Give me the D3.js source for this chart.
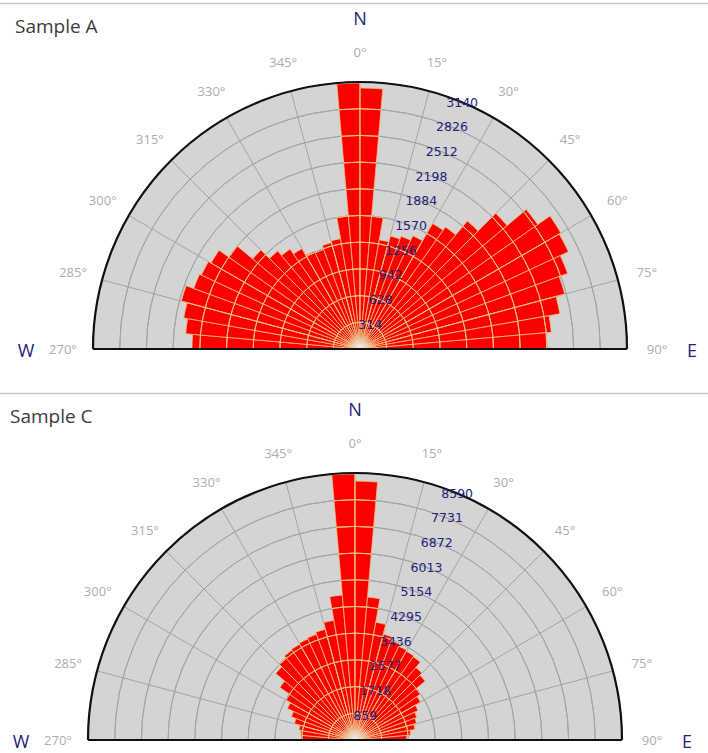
<!DOCTYPE html>
<html>
<head>
<meta charset="utf-8">
<script src="https://cdn.jsdelivr.net/npm/d3@7"></script>
<style>
  body { margin: 0; background: #ffffff; }
  svg { display: block; }
</style>
</head>
<body>
<svg id="chart" width="708" height="753"></svg>
<script>
// Direction bins (start of each 5° sector), running from west through north to east
const binStarts = [270, 275, 280, 285, 290, 295, 300, 305, 310, 315, 320, 325, 330, 335, 340, 345, 350, 355,
                   0, 5, 10, 15, 20, 25, 30, 35, 40, 45, 50, 55, 60, 65, 70, 75, 80, 85];

// Counts per sector
const sampleAValues = [1976, 2058, 2105, 2176, 2082, 2058, 2023, 1882, 1647, 1505, 1435, 1364, 1270, 1247, 1294, 1317, 1576, 3128,
                       3070, 1565, 1305, 1376, 1411, 1470, 1705, 1752, 1964, 2258, 2552, 2728, 2705, 2599, 2493, 2387, 2258, 2199];
const sampleCValues = [1700, 1760, 1830, 2020, 2180, 2400, 2560, 2950, 3330, 3460, 3530, 3560, 3590, 3620, 3690, 3910, 4680, 8560,
                       8330, 4615, 3846, 3525, 3400, 3330, 3300, 3270, 3045, 2950, 2560, 2435, 2240, 2115, 2050, 1955, 1795, 1667];

// Ring labels
const sampleATicks = [314, 628, 942, 1256, 1570, 1884, 2198, 2512, 2826, 3140];
const sampleCTicks = [859, 1718, 2577, 3436, 4295, 5154, 6013, 6872, 7731, 8590];

// Compass labels around the half circle
const degreeTicks = [270, 285, 300, 315, 330, 345, 0, 15, 30, 45, 60, 75, 90];

const binWidth = 5;
const outerRadius = 267;

const panels = [
  { title: "Sample A", values: sampleAValues, ticks: sampleATicks, cx: 360, cy: 349, top: 3, titleX: 15 },
  { title: "Sample C", values: sampleCValues, ticks: sampleCTicks, cx: 355, cy: 740, top: 393, titleX: 10 }
];

const svg = d3.select("#chart");
const rad = d => ((d >= 180 ? d - 360 : d) * Math.PI) / 180;

const BAR_FILL = "#ff0000";
const BAR_LINE = "#efc07e";
const GRID = "#a4a4a4";
const NAVY = "#23237a";

// soft light spot where the sector edges meet at the centre
const defs = svg.append("defs");
const glow = defs.append("radialGradient")
  .attr("id", "hub-glow")
  .attr("gradientUnits", "userSpaceOnUse")
  .attr("cx", 0).attr("cy", 0).attr("r", 16);
glow.append("stop").attr("offset", "0%").attr("stop-color", "#f4f4f4").attr("stop-opacity", 0.95);
glow.append("stop").attr("offset", "55%").attr("stop-color", "#e6e0dc").attr("stop-opacity", 0.45);
glow.append("stop").attr("offset", "100%").attr("stop-color", "#e0d0c8").attr("stop-opacity", 0);

panels.forEach((p, idx) => {
  const g = svg.append("g");

  // panel top border
  g.append("line")
    .attr("x1", 0).attr("x2", 708)
    .attr("y1", p.top + 0.5).attr("y2", p.top + 0.5)
    .attr("stroke", "#c6c6c6").attr("stroke-width", 1.5);

  g.append("text")
    .attr("x", p.titleX).attr("y", p.top + 30)
    .attr("font-family", "'Open Sans', sans-serif")
    .attr("font-size", 19)
    .attr("fill", "#3c3c3c")
    .text(p.title);

  const r = d3.scaleLinear()
    .domain([0, d3.max(p.ticks)])
    .range([0, outerRadius]);
  const rMax = r(d3.max(p.ticks));
  const halfDisc = (inner, outer) => d3.arc()({ innerRadius: inner, outerRadius: outer, startAngle: -Math.PI / 2, endAngle: Math.PI / 2 });

  const plot = g.append("g").attr("transform", `translate(${p.cx},${p.cy})`);

  // background half disc
  plot.append("path")
    .attr("d", halfDisc(0, rMax))
    .attr("fill", "#d4d4d4");

  const drawGrid = (sel, color, width) => {
    sel.selectAll("path.ring")
      .data(p.ticks)
      .join("path")
      .attr("class", "ring")
      .attr("d", t => halfDisc(r(t), r(t)))
      .attr("fill", "none")
      .attr("stroke", color)
      .attr("stroke-width", width);
    sel.selectAll("line.spoke")
      .data(degreeTicks)
      .join("line")
      .attr("class", "spoke")
      .attr("x1", 0).attr("y1", 0)
      .attr("x2", d => rMax * Math.sin(rad(d)))
      .attr("y2", d => -rMax * Math.cos(rad(d)))
      .attr("stroke", color)
      .attr("stroke-width", width);
  };

  drawGrid(plot.append("g"), GRID, 1);

  const bars = binStarts.map((s, i) => ({ start: s, value: p.values[i] }));
  const barArc = d => d3.arc()({
    innerRadius: 0,
    outerRadius: r(d.value),
    startAngle: rad(d.start),
    endAngle: rad(d.start) + (binWidth * Math.PI) / 180
  });

  plot.append("g")
    .selectAll("path")
    .data(bars)
    .join("path")
    .attr("d", barArc)
    .attr("fill", BAR_FILL)
    .attr("stroke", BAR_LINE)
    .attr("stroke-width", 0.8);

  // light grid lines showing through the bars
  const clipId = "bars-clip-" + idx;
  plot.append("clipPath").attr("id", clipId)
    .selectAll("path")
    .data(bars)
    .join("path")
    .attr("d", barArc);
  drawGrid(plot.append("g").attr("clip-path", `url(#${clipId})`), BAR_LINE, 1);

  plot.append("path")
    .attr("d", halfDisc(0, 16))
    .attr("fill", "url(#hub-glow)");

  // outline
  plot.append("path")
    .attr("d", halfDisc(rMax, rMax))
    .attr("fill", "none")
    .attr("stroke", "#111")
    .attr("stroke-width", 2.2);
  plot.append("line")
    .attr("x1", -rMax).attr("x2", rMax)
    .attr("y1", 0).attr("y2", 0)
    .attr("stroke", "#111")
    .attr("stroke-width", 2.2);

  // compass degree labels
  const labelR = outerRadius + 30;
  plot.selectAll("text.deg")
    .data(degreeTicks)
    .join("text")
    .attr("class", "deg")
    .attr("x", d => labelR * Math.sin(rad(d)))
    .attr("y", d => -labelR * Math.cos(rad(d)))
    .attr("dy", "0.35em")
    .attr("text-anchor", "middle")
    .attr("font-family", "'Open Sans', sans-serif")
    .attr("font-size", 13)
    .attr("fill", "#adadad")
    .text(d => d + "°");

  // ring value labels
  const tickAngle = rad(22.5);
  plot.selectAll("text.tick")
    .data(p.ticks)
    .join("text")
    .attr("class", "tick")
    .attr("x", t => r(t) * Math.sin(tickAngle))
    .attr("y", t => -r(t) * Math.cos(tickAngle))
    .attr("dy", "0.35em")
    .attr("text-anchor", "middle")
    .attr("font-family", "'DejaVu Sans', sans-serif")
    .attr("font-size", 12.5)
    .attr("fill", NAVY)
    .text(t => t);

  // cardinal letters
  const card = [
    { t: "N", x: 0, y: -324 },
    { t: "W", x: -334, y: 8 },
    { t: "E", x: 332, y: 8 }
  ];
  plot.selectAll("text.card")
    .data(card)
    .join("text")
    .attr("class", "card")
    .attr("x", d => d.x)
    .attr("y", d => d.y)
    .attr("text-anchor", "middle")
    .attr("font-family", "'Open Sans', sans-serif")
    .attr("font-size", 18)
    .attr("fill", NAVY)
    .text(d => d.t);
});
</script>
</body>
</html>
